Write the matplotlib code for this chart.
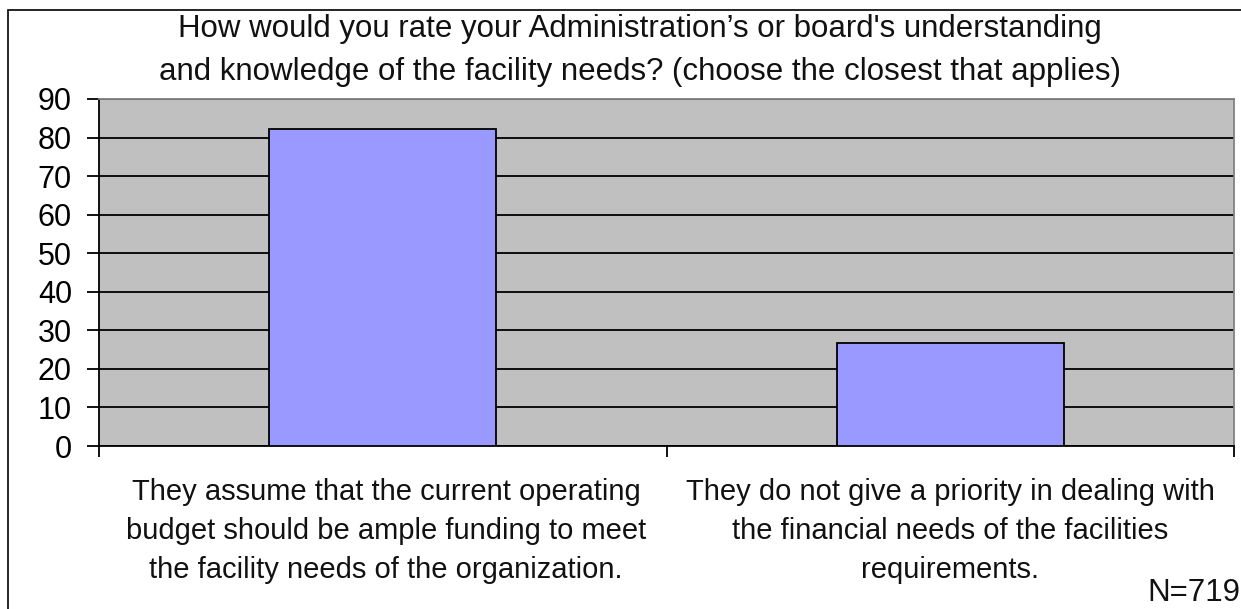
import matplotlib.pyplot as plt
from matplotlib.patches import Rectangle

plt.rcParams['font.family'] = ['Liberation Sans', 'DejaVu Sans']

categories = ['They assume that the current operating\nbudget should be ample funding to meet\nthe facility needs of the organization.',
              'They do not give a priority in dealing with\nthe financial needs of the facilities\nrequirements.']
values = [82.2, 26.6]
yticks = [0, 10, 20, 30, 40, 50, 60, 70, 80, 90]
title = ("How would you rate your Administration\u2019s or board's understanding\n"
         "and knowledge of the facility needs? (choose the closest that applies)")

W, H = 1241, 609
fig = plt.figure(figsize=(W / 100, H / 100), dpi=100)
ax = fig.add_axes([99 / W, 1 - 446 / H, 1135 / W, 347 / H])
ax.set_facecolor('#c0c0c0')

x = range(len(values))
ax.bar(x, values, width=0.4, color='#9999ff', edgecolor='black', linewidth=1.3, zorder=3)

ax.set_xlim(-0.5, 1.5)
ax.set_ylim(0, 90)
ax.set_yticks(yticks)
ax.yaxis.grid(True, color='black', linewidth=1.3, zorder=1)
ax.set_axisbelow(True)
ax.tick_params(axis='y', labelsize=22, length=8.5, width=1.3, direction='out', pad=11)

ax.set_xticks([-0.5, 0.5, 1.5])
ax.set_xticklabels([])
ax.tick_params(axis='x', length=8, width=1.3, direction='out')

# multi-line text: va='baseline' sits on the last line's baseline
label_x = [386 / W, 950 / W]
for lx, lab in zip(label_x, categories):
    fig.text(lx, 1 - 578 / H, lab, ha='center', va='baseline', fontsize=21,
             linespacing=1.5, color='#111111')

for s in ['left', 'bottom']:
    ax.spines[s].set_color('black')
    ax.spines[s].set_linewidth(1.3)
for s in ['top', 'right']:
    ax.spines[s].set_color('#808080')
    ax.spines[s].set_linewidth(1.3)

fig.text(640 / W, 1 - 80 / H, title, ha='center', va='baseline', fontsize=22.5,
         linespacing=1.55, color='#111111')
fig.text(1240 / W, 1 - 601 / H, 'N=719', ha='right', va='baseline', fontsize=22.5,
         color='#111111')

# outer chart frame (only top and left edges fall inside the image)
fig.patches.append(Rectangle((8 / W, -0.05), 1.1, 1 - 10 / H + 0.05,
                             transform=fig.transFigure, fill=False,
                             edgecolor='black', linewidth=1.2))

fig.savefig('out.png', dpi=100)
